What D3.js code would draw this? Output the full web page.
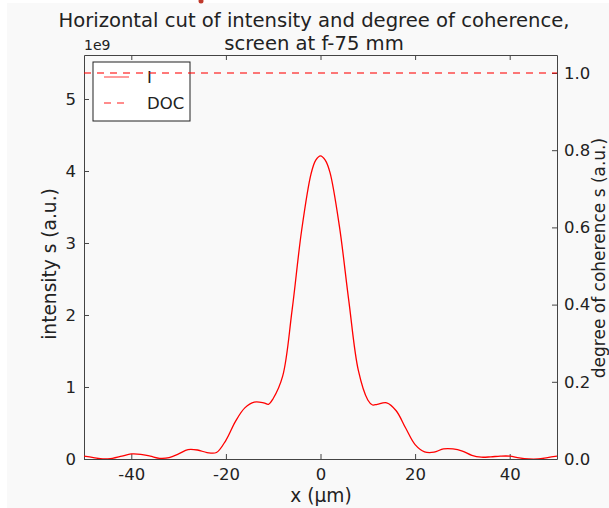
<!DOCTYPE html>
<html>
<head>
<meta charset="utf-8">
<script src="https://cdn.jsdelivr.net/npm/d3@7"></script>
<style>
  body { margin: 0; background: #ffffff; }
  text { font-family: "DejaVu Sans", sans-serif; fill: #222; }
</style>
</head>
<body>
<div id="chart"></div>
<script>
// x positions (µm) and intensity (units of 1e9)
const xPos = [-50, -48, -46, -44, -42, -40, -38, -36, -34, -32, -30, -28, -26, -24, -22, -20, -18, -16, -14, -12, -11, -10, -8, -6, -4, -2, -1, 0,
              1, 2, 4, 6, 8, 10, 11, 12, 14, 16, 18, 20, 22, 24, 26, 28, 30, 32, 34, 36, 38, 40, 42, 44, 46, 48, 50];
const intensity = [0.04, 0.02, 0.0, 0.01, 0.04, 0.07, 0.065, 0.04, 0.01, 0.02, 0.07, 0.13, 0.125, 0.09, 0.09, 0.26, 0.52, 0.71, 0.79, 0.78, 0.76, 0.84, 1.15, 2.07, 3.17, 3.96, 4.15, 4.21,
                   4.15, 3.98, 3.23, 2.19, 1.23, 0.82, 0.75, 0.76, 0.78, 0.67, 0.43, 0.2, 0.1, 0.095, 0.14, 0.14, 0.11, 0.05, 0.025, 0.03, 0.04, 0.04, 0.015, 0.0, 0.0, 0.02, 0.04];
// degree of coherence
const docX = [-50, -40, -30, -20, -10, 0, 10, 20, 30, 40, 50];
const docValues = [1.0, 1.0, 1.0, 1.0, 1.0, 1.0, 1.0, 1.0, 1.0, 1.0, 1.0];

const xTicks = [-40, -20, 0, 20, 40];
const yLeftTicks = [0, 1, 2, 3, 4, 5];
const yRightTicks = [0.0, 0.2, 0.4, 0.6, 0.8, 1.0];
const legendLabels = ["I", "DOC"];

const width = 609, height = 508;
const plotLeft = 84, plotRight = 557, plotTop = 55, plotBottom = 459;

const svg = d3.select("#chart").append("svg")
    .attr("width", width)
    .attr("height", height);

svg.append("rect").attr("width", width).attr("height", height).attr("fill", "#ffffff");
svg.append("rect").attr("x", 7).attr("y", 3).attr("width", width - 7).attr("height", height - 3).attr("fill", "#f9f9f9");
svg.append("circle").attr("cx", 201).attr("cy", 1).attr("r", 2.5).attr("fill", "#c0392b");

const x = d3.scaleLinear().domain([-50, 50]).range([plotLeft, plotRight]);
const yL = d3.scaleLinear().domain([0, 5.611]).range([plotBottom, plotTop]);
const yR = d3.scaleLinear().domain([0, 1.0466]).range([plotBottom, plotTop]);

// clip for curves
svg.append("defs").append("clipPath").attr("id", "plotClip")
    .append("rect").attr("x", plotLeft).attr("y", plotTop).attr("width", plotRight - plotLeft).attr("height", plotBottom - plotTop);

// axes (inside ticks, classic matplotlib look)
const tickLen = 5;
const axisG = svg.append("g").style("font-size", "16.5px");

const bottomAxis = axisG.append("g").attr("transform", `translate(0,${plotBottom})`)
    .call(d3.axisBottom(x).tickValues(xTicks).tickSizeInner(-tickLen).tickSizeOuter(0).tickPadding(9).tickFormat(d3.format("d")));
const topAxis = axisG.append("g").attr("transform", `translate(0,${plotTop})`)
    .call(d3.axisTop(x).tickValues(xTicks).tickSizeInner(-tickLen).tickSizeOuter(0).tickFormat(""));
const leftAxis = axisG.append("g").attr("transform", `translate(${plotLeft},0)`)
    .call(d3.axisLeft(yL).tickValues(yLeftTicks).tickSizeInner(-tickLen).tickSizeOuter(0).tickPadding(8).tickFormat(d3.format("d")));
const rightAxis = axisG.append("g").attr("transform", `translate(${plotRight},0)`)
    .call(d3.axisRight(yR).tickValues(yRightTicks).tickSizeInner(-tickLen).tickSizeOuter(0).tickPadding(7).tickFormat(d3.format(".1f")));

[bottomAxis, topAxis, leftAxis, rightAxis].forEach(a => {
    a.attr("font-size", null).attr("font-family", null);
    a.selectAll("path").attr("stroke", "#444");
    a.selectAll("line").attr("stroke", "#444");
    a.selectAll("text").attr("fill", "#222");
});
// ticks on the x-axis use a plain hyphen like the reference
bottomAxis.selectAll("text").text(d => String(d));

// intensity curve
const line = d3.line()
    .x((d, i) => x(xPos[i]))
    .y(d => yL(d))
    .curve(d3.curveCatmullRom.alpha(0.5));

svg.append("path")
    .datum(intensity)
    .attr("clip-path", "url(#plotClip)")
    .attr("d", line)
    .attr("fill", "none")
    .attr("stroke", "#ff0000")
    .attr("stroke-width", 1.3);

// legend (belongs to first axes, so under the DOC line)
const lg = svg.append("g");
lg.append("rect")
    .attr("x", 93).attr("y", 62).attr("width", 97).attr("height", 59)
    .attr("fill", "#ffffff").attr("stroke", "#222").attr("stroke-width", 1);
lg.append("line").attr("x1", 104).attr("x2", 129).attr("y1", 77).attr("y2", 77)
    .attr("stroke", "#ff0000").attr("stroke-opacity", 0.6).attr("stroke-width", 1.3);
lg.append("line").attr("x1", 104).attr("x2", 129).attr("y1", 103).attr("y2", 103)
    .attr("stroke", "#ff0000").attr("stroke-opacity", 0.6).attr("stroke-width", 1.5)
    .attr("stroke-dasharray", "7,6");
lg.selectAll("text.leg").data(legendLabels).enter().append("text")
    .attr("class", "leg")
    .attr("x", 147)
    .attr("y", (d, i) => 83 + i * 26)
    .style("font-size", "16.5px")
    .text(d => d);

// DOC curve
const docLine = d3.line()
    .x((d, i) => x(docX[i]))
    .y(d => yR(d));

svg.append("path")
    .datum(docValues)
    .attr("d", docLine)
    .attr("fill", "none")
    .attr("stroke", "#ff0000")
    .attr("stroke-opacity", 0.7)
    .attr("stroke-width", 1.6)
    .attr("stroke-dasharray", "7,6");

// titles and labels
svg.append("text").attr("x", 314).attr("y", 27).attr("text-anchor", "middle")
    .style("font-size", "19.6px").text("Horizontal cut of intensity and degree of coherence,");
svg.append("text").attr("x", 314).attr("y", 50).attr("text-anchor", "middle")
    .style("font-size", "19.6px").text("screen at f-75 mm");
svg.append("text").attr("x", 84).attr("y", 50)
    .style("font-size", "14px").text("1e9");
svg.append("text").attr("x", 321).attr("y", 502).attr("text-anchor", "middle")
    .style("font-size", "18.6px").text("x (µm)");
svg.append("text").attr("transform", `translate(56,264) rotate(-90)`)
    .attr("text-anchor", "middle").style("font-size", "18.6px").text("intensity s (a.u.)");
svg.append("text").attr("transform", `translate(605,258) rotate(-90)`)
    .attr("text-anchor", "middle").style("font-size", "17px").text("degree of coherence s (a.u.)");
</script>
</body>
</html>
